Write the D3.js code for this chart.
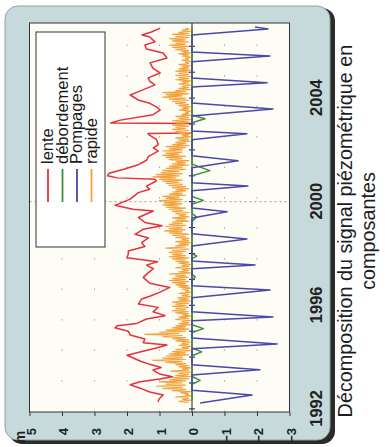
<!DOCTYPE html>
<html>
<head>
<meta charset="utf-8">
<script src="https://cdn.jsdelivr.net/npm/d3@7"></script>
<style>
  html, body { margin: 0; padding: 0; background: #ffffff; }
  svg { display: block; }
</style>
</head>
<body>
<svg id="chart" width="385" height="447"></svg>
<script>
// ---- data -------------------------------------------------------------
const yearLabels = [1992, 1996, 2000, 2004];
const yearTicks = [1992, 1993, 1994, 1995, 1996, 1997, 1998, 1999, 2000, 2001, 2002, 2003, 2004, 2005, 2006];
const valueTicks = [-3, -2, -1, 0, 1, 2, 3, 4, 5];
const seriesNames = ["lente", "débordement", "Pompages", "rapide"];
const seriesColors = ["#e5303f", "#3e8e3c", "#4a48a8", "#f4a23c"];
const titleLines = ["Décomposition du signal piézométrique en", "composantes"];
const unitLabel = "m";

// slow component [year, m]
const lente = [
  [1992.27, 1.05], [1992.40, 1.00], [1992.54, 0.89], [1992.65, 1.30], [1992.80, 1.60],
  [1992.93, 1.90], [1993.05, 1.60], [1993.15, 1.00], [1993.24, 0.60], [1993.35, 1.00],
  [1993.50, 1.20], [1993.60, 0.95], [1993.72, 1.30], [1993.85, 1.60], [1994.07, 2.00],
  [1994.20, 1.60], [1994.35, 1.10], [1994.47, 0.77], [1994.55, 1.50], [1994.70, 1.45],
  [1994.85, 1.90], [1995.00, 1.96], [1995.13, 2.37], [1995.21, 2.30], [1995.30, 1.70],
  [1995.47, 1.40], [1995.60, 0.83], [1995.75, 1.20], [1995.92, 1.04], [1996.05, 1.65],
  [1996.24, 1.55], [1996.35, 1.30], [1996.50, 1.00], [1996.69, 0.68], [1996.85, 1.30],
  [1997.08, 1.50], [1997.25, 1.35], [1997.41, 1.19], [1997.55, 1.40], [1997.68, 1.06],
  [1997.84, 2.00], [1997.98, 1.96], [1998.10, 1.96], [1998.27, 1.45], [1998.42, 1.55],
  [1998.60, 1.34], [1998.74, 1.75], [1998.94, 1.50], [1999.07, 0.92], [1999.20, 1.45],
  [1999.39, 1.65], [1999.64, 1.19], [1999.71, 1.82], [1999.86, 2.37], [2000.10, 1.90],
  [2000.35, 1.65], [2000.48, 1.30], [2000.60, 1.40], [2000.80, 1.10], [2000.87, 1.14],
  [2000.92, 2.30], [2001.00, 2.60], [2001.10, 2.55], [2001.25, 2.10], [2001.43, 1.65],
  [2001.60, 1.40], [2001.75, 1.34], [2001.95, 1.04], [2002.08, 1.19], [2002.20, 1.04],
  [2002.40, 1.09], [2002.60, 1.34], [2002.63, 1.35], [2002.65, 0.00], [2003.02, 0.00],
  [2003.04, 2.50], [2003.15, 2.20], [2003.36, 1.20], [2003.54, 0.98], [2003.65, 1.08],
  [2003.80, 1.30], [2003.93, 1.66], [2004.12, 1.90], [2004.24, 1.66], [2004.51, 1.14],
  [2004.65, 1.30], [2004.78, 1.35], [2004.97, 0.98], [2005.15, 1.20], [2005.36, 1.29],
  [2005.55, 0.77], [2005.74, 0.89], [2005.90, 1.40], [2006.05, 1.45], [2006.17, 1.14],
  [2006.36, 1.30], [2006.44, 1.54], [2006.56, 1.23], [2006.70, 0.98]
];

// overflow component [year, m]
const debordement = [
  [1992.30, 0], [1992.95, 0], [1993.10, -0.25], [1993.25, 0], [1994.05, 0], [1994.20, -0.30],
  [1994.35, 0], [1994.95, 0], [1995.10, -0.35], [1995.25, 0], [1996.95, 0], [1997.10, -0.10],
  [1997.20, 0], [1997.80, 0], [1997.90, -0.15], [1998.00, 0], [1999.25, 0], [1999.40, -0.15],
  [1999.55, 0], [1999.90, 0], [2000.05, -0.35], [2000.20, 0], [2001.00, 0], [2001.20, -0.55],
  [2001.45, 0], [2003.05, 0], [2003.20, -0.40], [2003.35, 0], [2006.75, 0]
];

// pumping component [year, m]
const pompages = [
  [1992.23, -0.25], [1992.54, -1.85], [1992.72, 0], [1993.31, 0], [1993.51, -2.09], [1993.70, 0],
  [1994.32, 0], [1994.51, -2.62], [1994.74, 0], [1995.40, 0], [1995.55, -2.49], [1995.75, 0],
  [1996.29, 0], [1996.59, -2.40], [1996.75, 0], [1997.41, 0], [1997.56, -1.94], [1997.71, 0],
  [1998.29, 0], [1998.56, -1.69], [1998.76, 0], [1999.37, 0], [1999.61, -1.08], [1999.76, 0],
  [2000.42, 0], [2000.61, -1.72], [2000.73, 0], [2001.31, 0], [2001.58, -1.42], [2001.77, 0],
  [2002.39, 0], [2002.62, -1.69], [2002.73, 0], [2003.31, 0], [2003.58, -2.49], [2003.81, 0],
  [2004.43, 0], [2004.59, -2.31], [2004.78, 0], [2005.40, 0], [2005.63, -2.40], [2005.78, 0],
  [2006.44, 0], [2006.67, -2.34], [2006.75, -1.94]
];

// fast component, half-monthly values starting 1992.25
const rapideStart = 1992.25;
const rapideStep = 1 / 24;
const rapide = [
  0.1,0.4,0.05,0.3,0.1,0.5,0.05,0.2,0.1,0.35,0.05,0.6,0.2,0.9,0.3,1.1,0.2,0.8,
  0.3,1.0,0.2,0.7,0.1,0.6,0.05,0.5,0.1,0.4,0.05,0.65,0.1,0.3,0.05,0.4,0.1,0.5,0.2,0.8,0.3,1.2,0.2,0.9,
  0.3,0.8,0.1,0.7,0.2,0.6,0.05,0.5,0.1,0.3,0.05,0.4,0.1,0.3,0.05,0.5,0.1,0.6,0.2,0.9,0.3,1.45,0.4,1.0,
  0.2,0.8,0.1,0.6,0.2,0.5,0.05,0.4,0.1,0.3,0.05,0.5,0.1,0.4,0.05,0.3,0.1,0.5,0.1,0.6,0.2,0.5,0.1,0.6,
  0.2,0.5,0.1,0.6,0.05,0.4,0.1,0.45,0.05,0.3,0.1,0.4,0.05,0.2,0.1,0.3,0.05,0.4,0.1,0.5,0.2,0.6,0.1,0.7,
  0.2,0.6,0.1,0.5,0.2,0.7,0.05,0.4,0.1,0.3,0.05,0.5,0.1,0.3,0.05,0.4,0.1,0.5,0.2,0.6,0.1,0.7,0.2,0.6,
  0.3,0.7,0.2,0.6,0.1,0.8,0.2,0.5,0.1,0.4,0.05,0.5,0.1,0.3,0.1,0.5,0.2,0.6,0.1,0.7,0.3,0.85,0.2,0.7,
  0.3,0.8,0.2,0.7,0.3,0.6,0.1,0.5,0.2,0.6,0.1,0.4,0.2,0.5,0.1,0.6,0.3,0.7,0.2,0.8,0.4,0.9,0.3,0.85,
  0.4,1.0,0.3,0.8,0.4,0.9,0.2,0.7,0.3,0.6,0.2,0.5,0.1,0.6,0.2,0.7,0.3,0.8,0.4,0.9,0.3,1.0,0.5,1.2,
  0.4,1.1,0.3,0.95,0.4,0.9,0.2,0.8,0.3,0.7,0.1,0.6,0.2,0.5,0.1,0.7,0.3,0.8,0.2,0.9,0.4,0.8,0.3,0.9,
  0.3,0.7,0.2,0.8,0.1,0.6,0.2,0.5,0.05,0.4,0.1,0.5,0.05,0.3,0.1,0.4,0.05,0.5,0.1,0.6,0.2,0.5,0.1,0.6,
  0.2,0.5,0.1,0.6,0.05,0.4,0.1,0.5,0.05,0.3,0.1,0.2,0.05,0.4,0.1,0.3,0.05,0.4,0.1,0.5,0.2,0.6,0.1,0.7,
  0.2,0.9,0.3,0.8,0.1,0.9,0.2,0.5,0.05,0.4,0.1,0.3,0.05,0.4,0.1,0.3,0.05,0.5,0.1,0.4,0.05,0.5,0.1,0.4,
  0.1,0.5,0.05,0.4,0.1,0.3,0.05,0.4,0.1,0.2,0.05,0.3,0.1,0.2,0.05,0.3,0.1,0.4,0.05,0.3,0.1,0.5,0.2,0.6,
  0.1,0.7,0.2,0.5,0.1,0.6,0.2,0.7,0.1,0.5,0.05,0.6,0.1,0.4,0.05,0.3,0.1,0.2
];

// ---- layout (drawn in landscape, then turned a quarter to the left) ----
const W = 447, H = 385;
const frame = { left: 35, right: 424, top: 29.5, bottom: 289.5 };
const font = "'Liberation Sans', Arial, Helvetica, sans-serif";

const svg = d3.select("#chart");
const g = svg.append("g").attr("transform", `translate(0,${W}) rotate(-90)`);

const x = d3.scaleLinear().domain([1991.88, 2006.9]).range([frame.left, frame.right]);
const y = d3.scaleLinear().domain([-3, 5]).range([frame.bottom, frame.top]);

// panel with drop shadow
g.append("rect").attr("x", 3).attr("y", 9).attr("width", 436).attr("height", 326)
  .attr("rx", 13).attr("fill", "#2b2b2b");
g.append("rect").attr("x", 7).attr("y", 5).attr("width", 434).attr("height", 325)
  .attr("rx", 13).attr("fill", "#c6dadb").attr("stroke", "#8fa3a4").attr("stroke-width", 1);

// plot area
g.append("rect")
  .attr("x", frame.left).attr("y", frame.top)
  .attr("width", frame.right - frame.left).attr("height", frame.bottom - frame.top)
  .attr("fill", "#fdfdf6");

// faint dotted grid
g.append("g").selectAll("line").data(valueTicks.filter(v => v !== 0 && v !== 5 && v !== -3)).join("line")
  .attr("x1", frame.left).attr("x2", frame.right)
  .attr("y1", d => y(d)).attr("y2", d => y(d))
  .attr("stroke", "#a9a9a9").attr("stroke-width", 1).attr("stroke-dasharray", "1.5,29");
g.append("line")
  .attr("x1", x(2000)).attr("x2", x(2000))
  .attr("y1", frame.top).attr("y2", frame.bottom)
  .attr("stroke", "#9a9a9a").attr("stroke-width", 1).attr("stroke-dasharray", "2,3");

// value axis
const yAxis = d3.axisLeft(y).tickValues(valueTicks).tickSize(4).tickPadding(12).tickFormat(d3.format("d"));
const ya = g.append("g").attr("transform", `translate(${frame.left},0)`).call(yAxis);
ya.select(".domain").remove();
ya.selectAll("line").attr("stroke", "#333");
ya.selectAll("text").attr("dy", "0.45em")
  .attr("font-family", font).attr("font-size", 13).attr("font-weight", "bold").attr("fill", "#222");

g.append("text").attr("x", 10).attr("y", 25).attr("text-anchor", "middle")
  .attr("font-family", font).attr("font-size", 14).attr("font-weight", "bold").attr("fill", "#222")
  .text(unitLabel);

// year axis under the frame
const xAxis = d3.axisBottom(x).tickValues(yearLabels).tickSize(0).tickPadding(21).tickFormat(d3.format("d"));
const xa = g.append("g").attr("transform", `translate(0,${frame.bottom})`).call(xAxis);
xa.select(".domain").remove();
xa.selectAll("text").attr("font-family", font).attr("font-size", 16.5).attr("font-weight", "bold").attr("fill", "#222");

// series
const line = d3.line().x(d => x(d[0])).y(d => y(d[1]));
const rapidePts = rapide.map((v, i) => [rapideStart + i * rapideStep, v]);

g.append("path").datum(lente).attr("d", line)
  .attr("fill", "none").attr("stroke", seriesColors[0]).attr("stroke-width", 1.5).attr("stroke-linejoin", "round");
g.append("path").datum(rapidePts).attr("d", line)
  .attr("fill", "none").attr("stroke", seriesColors[3]).attr("stroke-width", 1.2).attr("stroke-linejoin", "round");

// zero line with yearly ticks
g.append("line").attr("x1", frame.left).attr("x2", frame.right)
  .attr("y1", y(0)).attr("y2", y(0)).attr("stroke", "#222").attr("stroke-width", 1);
g.append("g").selectAll("line").data(yearTicks).join("line")
  .attr("x1", d => x(d)).attr("x2", d => x(d))
  .attr("y1", y(0) - 3).attr("y2", y(0) + 3).attr("stroke", "#222").attr("stroke-width", 1);

g.append("path").datum(debordement).attr("d", line)
  .attr("fill", "none").attr("stroke", seriesColors[1]).attr("stroke-width", 1.5).attr("stroke-linejoin", "round");
g.append("path").datum(pompages).attr("d", line)
  .attr("fill", "none").attr("stroke", seriesColors[2]).attr("stroke-width", 1.5).attr("stroke-linejoin", "round");

// frame outline
g.append("rect")
  .attr("x", frame.left).attr("y", frame.top)
  .attr("width", frame.right - frame.left).attr("height", frame.bottom - frame.top)
  .attr("fill", "none").attr("stroke", "#333").attr("stroke-width", 1);

// legend
const lg = g.append("g");
lg.append("rect").attr("x", 200).attr("y", 36).attr("width", 215).attr("height", 69)
  .attr("fill", "#ffffff").attr("stroke", "#333").attr("stroke-width", 1);
const rowY = d3.scalePoint().domain(seriesNames).range([48, 91.5]);
seriesNames.forEach((name, i) => {
  lg.append("line").attr("x1", 245).attr("x2", 278)
    .attr("y1", rowY(name)).attr("y2", rowY(name))
    .attr("stroke", seriesColors[i]).attr("stroke-width", 1.8);
  lg.append("text").attr("x", 283).attr("y", rowY(name)).attr("dy", "0.33em")
    .attr("font-family", font).attr("font-size", 16.5).attr("fill", "#1a1a1a")
    .text(name);
});

// title
titleLines.forEach((t, i) => {
  g.append("text").attr("x", 216).attr("y", 352 + i * 23).attr("text-anchor", "middle")
    .attr("font-family", font).attr("font-size", 19.8).attr("fill", "#1e1e1e")
    .text(t);
});
</script>
</body>
</html>
